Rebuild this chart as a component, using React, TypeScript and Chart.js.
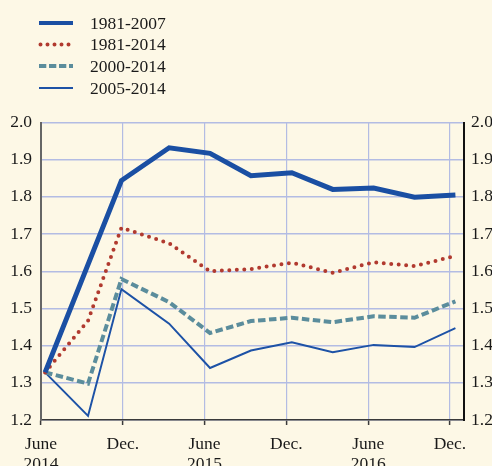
import React, { useEffect, useRef } from "react";
import { Chart, registerables } from "chart.js";
Chart.register(...registerables);

// months since June 2014
const xMonths = [0.3, 3.45, 5.9, 9.4, 12.4, 15.4, 18.4, 21.4, 24.4, 27.4, 30.4];
const s1981_2007 = [1.328, null, 1.844, 1.932, 1.917, 1.857, 1.865, 1.82, 1.824, 1.799, 1.805];
const s1981_2014 = [1.328, 1.467, 1.717, 1.675, 1.6, 1.606, 1.623, 1.596, 1.624, 1.614, 1.641];
const s2000_2014 = [1.328, 1.298, 1.579, 1.517, 1.434, 1.466, 1.475, 1.463, 1.479, 1.475, 1.519];
const s2005_2014 = [1.328, 1.211, 1.552, 1.459, 1.34, 1.387, 1.409, 1.382, 1.402, 1.396, 1.447];

const seriesNames = ["1981-2007", "1981-2014", "2000-2014", "2005-2014"];
const tickMonths = [0, 6, 12, 18, 24, 30];
const tickLabels: (string | string[])[] = [
  ["June", "2014"],
  "Dec.",
  ["June", "2015"],
  "Dec.",
  ["June", "2016"],
  "Dec.",
];
const yMin = 1.2;
const yMax = 2.0;
const yStep = 0.1;
const xMax = 31.03;

const BG = "#fdf8e6";
const GRID = "#b3bce3";
const AXIS = "#3a3a3a";
const FONT = '"Liberation Serif", "Times New Roman", serif';
const FS = 17.5;

const toPts = (vals: (number | null)[]) =>
  vals.map((v, i) => ({ x: xMonths[i], y: v }));

const bgPlugin = {
  id: "bg",
  beforeDraw(chart: any) {
    const { ctx, width, height } = chart;
    ctx.save();
    ctx.fillStyle = BG;
    ctx.fillRect(0, 0, width, height);
    ctx.restore();
  },
};

const legendPlugin = {
  id: "customLegend",
  afterDraw(chart: any) {
    const ctx = chart.ctx;
    const rows = [23, 44.5, 66, 88];
    chart.data.datasets.forEach((ds: any, i: number) => {
      const y = rows[i];
      ctx.save();
      ctx.strokeStyle = ds.borderColor;
      ctx.lineWidth = ds.legendWidth;
      ctx.setLineDash(ds.legendDash || []);
      ctx.lineCap = ds.borderCapStyle || "butt";
      ctx.beginPath();
      ctx.moveTo(ds.legendStart ?? 39, y);
      ctx.lineTo(73, y);
      ctx.stroke();
      ctx.setLineDash([]);
      ctx.fillStyle = "#1a1a1a";
      ctx.font = `${FS}px ${FONT}`;
      ctx.textBaseline = "middle";
      ctx.textAlign = "left";
      ctx.fillText(ds.label, 90, y + 1);
      ctx.restore();
    });
  },
};

export default function App() {
  const ref = useRef<HTMLCanvasElement>(null);
  useEffect(() => {
    document.body.style.margin = "0";
    document.body.style.background = BG;
    const canvas = ref.current!;
    const chart = new Chart(canvas, {
      type: "line",
      data: {
        datasets: [
          {
            label: seriesNames[0],
            data: toPts(s1981_2007),
            borderColor: "#1a4fa3",
            borderWidth: 5,
            borderJoinStyle: "miter",
            pointRadius: 0,
            spanGaps: true,
            tension: 0,
            legendWidth: 4.2,
          } as any,
          {
            label: seriesNames[1],
            data: toPts(s1981_2014),
            borderColor: "#b13a2f",
            borderWidth: 4,
            borderDash: [0, 7.5],
            borderCapStyle: "round",
            pointRadius: 0,
            tension: 0,
            legendWidth: 4,
            legendDash: [0, 7],
            legendStart: 40.5,
          } as any,
          {
            label: seriesNames[2],
            data: toPts(s2000_2014),
            borderColor: "#5b8d9c",
            borderWidth: 4,
            borderDash: [7.5, 3.5],
            pointRadius: 0,
            tension: 0,
            legendWidth: 4,
            legendDash: [7.3, 2.7],
          } as any,
          {
            label: seriesNames[3],
            data: toPts(s2005_2014),
            borderColor: "#1d52a6",
            borderWidth: 2,
            pointRadius: 0,
            tension: 0,
            legendWidth: 2.2,
          } as any,
        ],
      },
      options: {
        animation: false,
        responsive: false,
        devicePixelRatio: 1,
        layout: { padding: { top: 122.5, left: 0, right: 0, bottom: 0 } },
        plugins: { legend: { display: false }, tooltip: { enabled: false } },
        scales: {
          x: {
            type: "linear",
            min: 0,
            max: xMax,
            afterBuildTicks: (scale: any) => {
              scale.ticks = tickMonths.map((v) => ({ value: v }));
            },
            afterFit: (scale: any) => {
              scale.height = 46;
            },
            ticks: {
              autoSkip: false,
              maxRotation: 0,
              padding: 9,
              color: "#1a1a1a",
              font: { family: FONT, size: FS, lineHeight: 1.15 },
              callback: (v: any) => {
                const i = tickMonths.indexOf(Number(v));
                return i >= 0 ? tickLabels[i] : "";
              },
            },
            grid: {
              color: GRID,
              lineWidth: 1.2,
              tickColor: AXIS,
              tickLength: 5,
              tickWidth: 1.5,
            },
            border: { display: true, color: AXIS, width: 1.5 },
          },
          y: {
            position: "left",
            min: yMin,
            max: yMax,
            afterFit: (scale: any) => {
              scale.width = 41;
            },
            ticks: {
              stepSize: yStep,
              padding: 9,
              color: "#1a1a1a",
              font: { family: FONT, size: FS },
              callback: (v: any) => Number(v).toFixed(1),
            },
            grid: { color: GRID, lineWidth: 1.5, drawTicks: false },
            border: { display: true, color: "#666", width: 2 },
          },
          y2: {
            position: "right",
            min: yMin,
            max: yMax,
            afterFit: (scale: any) => {
              scale.width = 28;
            },
            ticks: {
              stepSize: yStep,
              padding: 7,
              color: "#1a1a1a",
              font: { family: FONT, size: FS },
              callback: (v: any) => Number(v).toFixed(1),
            },
            grid: { drawOnChartArea: false, drawTicks: false },
            border: { display: true, color: "#111", width: 2 },
          },
        },
      } as any,
      plugins: [bgPlugin, legendPlugin],
    });
    return () => chart.destroy();
  }, []);
  return (
    <div style={{ position: "absolute", left: 0, top: 0, width: 492, height: 466 }}>
      <canvas ref={ref} width={492} height={466} style={{ display: "block" }} />
    </div>
  );
}
